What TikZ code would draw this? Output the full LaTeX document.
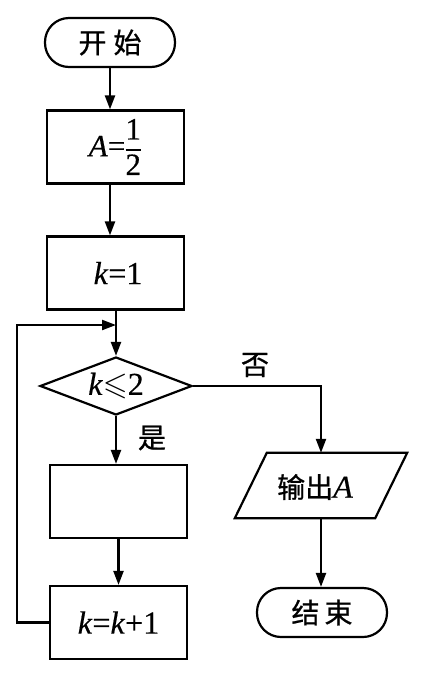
\documentclass[tikz,border=0pt]{standalone}
\usepackage{amsmath,amssymb}
\usepackage{fontspec}
\setmainfont{Liberation Serif}[FakeBold=0.4]
\newfontfamily\cjk{Noto Sans CJK SC}[FakeBold=0.8]
\usetikzlibrary{arrows.meta,shapes.geometric,calc}
\tikzset{
  lw/.style={line width=2.2pt},
  box/.style={draw, lw, minimum width=137pt, minimum height=73pt, inner sep=0pt},
  term/.style={draw, lw, rounded corners=24pt, minimum width=130pt, minimum height=49pt, inner sep=0pt},
  arr/.style={lw, -{Triangle[length=14pt,width=10pt]}},
  mtxt/.style={font=\fontsize{32pt}{36pt}\selectfont},
  ctxt/.style={font=\fontsize{28pt}{32pt}\selectfont\cjk},
}
\begin{document}
\begin{tikzpicture}[x=1pt,y=-1pt]
\useasboundingbox (0,0) rectangle (425,686);
\node[term, ctxt] (start) at (110,42.5) {开\hspace{7pt}始};
\node[box, font=\fontsize{31pt}{34pt}\selectfont] (A) at (115.5,147) {\textit{A}=\hspace{-1pt}$\dfrac{\mbox{1}}{\mbox{2}}$};
\node[box, mtxt] (k1) at (115.5,273) {\hspace{5pt}\textit{k}=1};
\node[draw, lw, diamond, minimum width=152pt, minimum height=58pt, aspect=2.6, inner sep=0pt, mtxt] (dia) at (116,386) {\textit{k}$\leqslant$2};
\node[box] (e) at (118.5,501.5) {};
\node[box, mtxt] (kk) at (118.5,622.5) {\textit{k}=\textit{k}+1};
\node[minimum width=172pt, minimum height=65pt, inner sep=0pt] (out) at (321,485.5) {};
\draw[lw] ($(out.north west)+(32,0)$) -- (out.north east) -- ($(out.south east)+(-32,0)$) -- (out.south west) -- cycle;
\node[ctxt] (outt) at (315,487) {输出{\fontsize{32pt}{36pt}\selectfont\rmfamily\itshape A}};
\node[term, ctxt] (stop) at (322,612.5) {结\hspace{5pt}束};
\node[ctxt] (yes) at (152,438) {是};
\node[ctxt] (no) at (255,365) {否};
\coordinate (lp) at (17,325);
\draw[arr] (start.south) -- (start.south |- A.north);
\draw[arr] (start.south |- A.south) -- (start.south |- k1.north);
\draw[arr] (k1.south -| dia.north) -- (dia.north);
\draw[arr] (kk.west) -| (lp) -- (lp -| dia.north);
\draw[arr] (dia.south) -- (dia.south |- e.north);
\draw[arr] (e.south) -- (kk.north);
\draw[arr] (dia.east) -| (out.north);
\draw[arr] (out.south) -- (out.south |- stop.north);
\end{tikzpicture}
\end{document}
